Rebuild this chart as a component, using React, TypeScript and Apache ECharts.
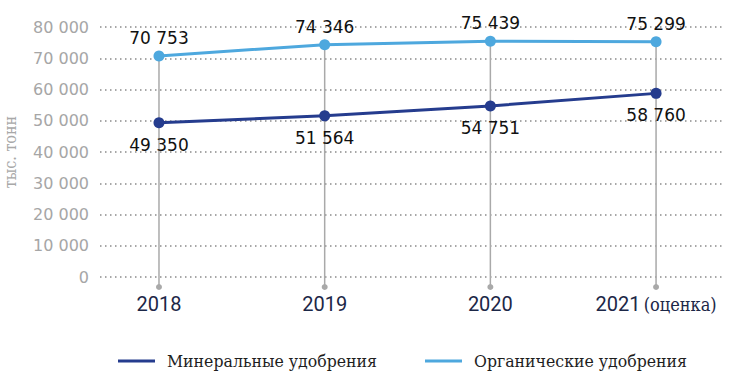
import React, { useEffect, useRef } from "react";
import * as echarts from "echarts";

const categories = ["2018", "2019", "2020", "2021"];
const categorySuffix = ["", "", "", "(оценка)"];
const mineral = [49350, 51564, 54751, 58760];
const organic = [70753, 74346, 75439, 75299];
const seriesNames = ["Минеральные удобрения", "Органические удобрения"];
const yMin = 0;
const yMax = 80000;
const yInterval = 10000;
const yAxisTitle = "тыс. тонн";

const fmt = (v: number) => String(Math.round(v)).replace(/\B(?=(\d{3})+(?!\d))/g, " ");

const DARK = "#253c8e";
const LIGHT = "#4ea8de";
const GREY = "#a9a9a9";
const SERIF = "'DejaVu Serif Condensed', 'DejaVu Serif', serif";

export default function App() {
  const ref = useRef<HTMLDivElement>(null);
  useEffect(() => {
    document.body.style.margin = "0";
    if (!ref.current) return;
    const chart = echarts.init(ref.current, null, { renderer: "svg" });
    chart.setOption({
      animation: false,
      grid: {
        left: 100,
        right: 8,
        top: 27,
        bottom: 99,
        containLabel: false,
        outerBoundsMode: "none",
      },
      xAxis: {
        type: "value",
        min: -0.356,
        max: 3.398,
        show: false,
      },
      yAxis: {
        type: "value",
        min: yMin,
        max: yMax,
        interval: yInterval,
        name: yAxisTitle,
        nameLocation: "middle",
        nameRotate: 90,
        nameGap: 82,
        nameTextStyle: { color: "#a8a8a8", fontSize: 16, fontFamily: SERIF },
        axisLine: { show: false },
        axisTick: { show: false },
        axisLabel: {
          color: "#a6a6a6",
          fontSize: 16,
          fontFamily: "DejaVu Sans",
          margin: 11,
          formatter: (v: number) => fmt(v),
        },
        splitLine: {
          show: true,
          lineStyle: { color: "#8a8a8a", width: 1.5, type: [1.5, 3.5] },
        },
      },
      legend: {
        show: true,
        left: 113,
        top: 347,
        itemWidth: 37,
        itemHeight: 3,
        itemGap: 48,
        icon: "rect",
        data: seriesNames,
        textStyle: {
          color: "#1e1e1e",
          fontSize: 17.5,
          fontFamily: SERIF,
          padding: [0, 0, 0, 7],
        },
      },
      series: [
        {
          type: "custom",
          z: 1,
          silent: true,
          clip: false,
          data: categories.map((_, i) => [i, organic[i]]),
          renderItem: (params: any, api: any) => {
            const i = api.value(0);
            const top = api.coord([i, api.value(1)]);
            const bottom = api.coord([i, 0]);
            const cx = top[0];
            const suffix = categorySuffix[i];
            const text = suffix
              ? `{a|${categories[i]}} {b|${suffix}}`
              : `{a|${categories[i]}}`;
            return {
              type: "group",
              children: [
                {
                  type: "line",
                  shape: { x1: cx, y1: top[1], x2: cx, y2: bottom[1] + 10 },
                  style: { stroke: GREY, lineWidth: 1.5 },
                },
                {
                  type: "circle",
                  shape: { cx, cy: bottom[1] + 10, r: 3 },
                  style: { fill: GREY },
                },
                {
                  type: "text",
                  x: cx,
                  y: bottom[1] + 27,
                  style: {
                    text,
                    align: "center",
                    verticalAlign: "middle",
                    rich: {
                      a: { fontSize: 20, fontFamily: "Roboto", fill: "#1c2747" },
                      b: { fontSize: 18, fontFamily: SERIF, fill: "#1c2747" },
                    },
                  },
                },
              ],
            };
          },
        },
        {
          name: seriesNames[0],
          type: "line",
          z: 3,
          data: categories.map((_, i) => [i, mineral[i]]),
          color: DARK,
          lineStyle: { width: 3, color: DARK },
          symbol: "circle",
          symbolSize: 11,
          itemStyle: { color: DARK },
          label: {
            show: true,
            position: "bottom",
            distance: 8,
            color: "#111",
            fontSize: 17,
            fontFamily: "DejaVu Sans",
            formatter: (p: any) => fmt(p.value[1]),
          },
        },
        {
          name: seriesNames[1],
          type: "line",
          z: 3,
          data: categories.map((_, i) => [i, organic[i]]),
          color: LIGHT,
          lineStyle: { width: 3, color: LIGHT },
          symbol: "circle",
          symbolSize: 11,
          itemStyle: { color: LIGHT },
          label: {
            show: true,
            position: "top",
            distance: 4,
            color: "#111",
            fontSize: 17,
            fontFamily: "DejaVu Sans",
            formatter: (p: any) => fmt(p.value[1]),
          },
        },
      ],
    });
    return () => chart.dispose();
  }, []);
  return <div ref={ref} style={{ width: 730, height: 376 }} />;
}
